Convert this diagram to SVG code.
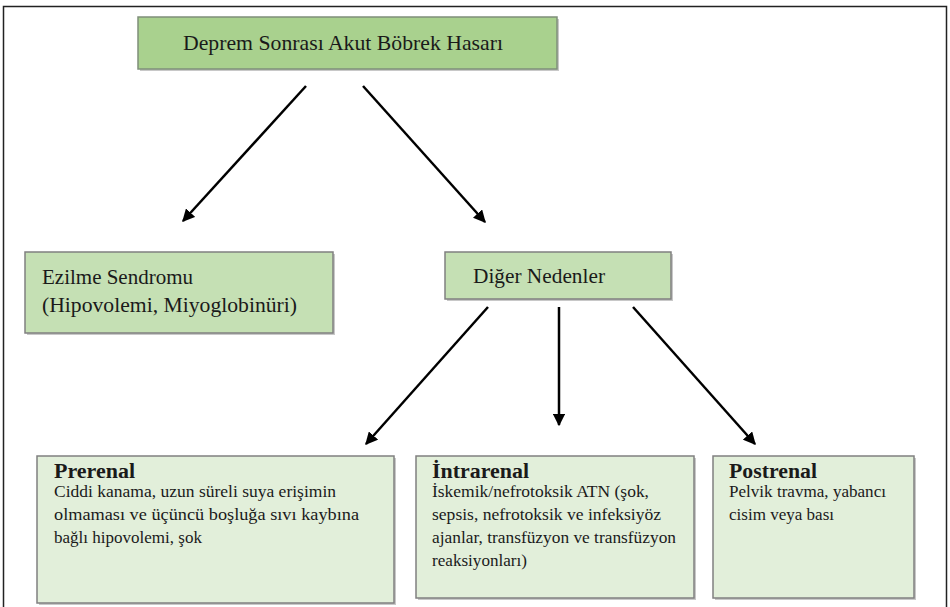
<svg xmlns="http://www.w3.org/2000/svg" width="950" height="607" viewBox="0 0 950 607">
<defs>
<style>
text{font-family:'Liberation Serif','DejaVu Serif','Noto Serif','Times New Roman',serif;fill:#1a1a1a}
.big{font-size:21px}
.head{font-size:22px}
.ttl{font-size:20px;font-weight:bold}
.body{font-size:17.5px}
.b1{fill:#a9d18e;stroke:#7f8f7a;stroke-width:1.5}
.b2{fill:#c5e0b4;stroke:#808080;stroke-width:1.5}
.b3{fill:#e2efda;stroke:#808080;stroke-width:1.5}
.sh{fill:#c8c8c8}
.c{stroke:#000;stroke-width:2.5;fill:none;marker-end:url(#ah)}
</style>
<marker id="ah" viewBox="0 0 10 10" refX="9" refY="5" markerWidth="5" markerHeight="5" orient="auto" markerUnits="strokeWidth">
<path d="M0,0 L10,5 L0,10 z" fill="#000"/>
</marker>
</defs>
<rect width="950" height="607" fill="#fff"/>
<path d="M3.5,610 V6.5 H946.5 V610" fill="none" stroke="#222" stroke-width="1.5"/>
<g id="top">
<rect class="sh" x="140" y="19" width="419" height="52"/>
<rect class="b1" x="138" y="17" width="419" height="52"/>
<text class="head" x="183" y="50" textLength="320" lengthAdjust="spacingAndGlyphs">Deprem Sonrası Akut Böbrek Hasarı</text>
</g>
<g id="ezilme">
<rect class="sh" x="27" y="254" width="308" height="81"/>
<rect class="b2" x="25" y="252" width="308" height="81"/>
<text class="big" x="42" y="284" textLength="151" lengthAdjust="spacingAndGlyphs">Ezilme Sendromu</text>
<text class="big" x="42" y="312" textLength="255" lengthAdjust="spacingAndGlyphs">(Hipovolemi, Miyoglobinüri)</text>
</g>
<g id="diger">
<rect class="sh" x="447" y="254" width="226" height="47"/>
<rect class="b2" x="445" y="252" width="226" height="47"/>
<text class="big" x="473" y="283" textLength="132" lengthAdjust="spacingAndGlyphs">Diğer Nedenler</text>
</g>
<g id="prerenal">
<rect class="sh" x="39" y="458" width="357" height="147"/>
<rect class="b3" x="37" y="456" width="357" height="147"/>
<text class="ttl" x="54" y="478" textLength="81" lengthAdjust="spacingAndGlyphs">Prerenal</text>
<text class="body" x="54" y="497" textLength="282" lengthAdjust="spacingAndGlyphs">Ciddi kanama, uzun süreli suya erişimin</text>
<text class="body" x="54" y="520" textLength="305" lengthAdjust="spacingAndGlyphs">olmaması ve üçüncü boşluğa sıvı kaybına</text>
<text class="body" x="54" y="543" textLength="148" lengthAdjust="spacingAndGlyphs">bağlı hipovolemi, şok</text>
</g>
<g id="intrarenal">
<rect class="sh" x="418" y="458" width="278" height="142"/>
<rect class="b3" x="416" y="456" width="278" height="142"/>
<text class="ttl" x="432" y="478" textLength="97" lengthAdjust="spacingAndGlyphs">İntrarenal</text>
<text class="body" x="432" y="497" textLength="217" lengthAdjust="spacingAndGlyphs">İskemik/nefrotoksik ATN (şok,</text>
<text class="body" x="432" y="520" textLength="229" lengthAdjust="spacingAndGlyphs">sepsis, nefrotoksik ve infeksiyöz</text>
<text class="body" x="432" y="543" textLength="244" lengthAdjust="spacingAndGlyphs">ajanlar, transfüzyon ve transfüzyon</text>
<text class="body" x="432" y="566" textLength="95" lengthAdjust="spacingAndGlyphs">reaksiyonları)</text>
</g>
<g id="postrenal">
<rect class="sh" x="715" y="458" width="201" height="142"/>
<rect class="b3" x="713" y="456" width="201" height="142"/>
<text class="ttl" x="729" y="478" textLength="88" lengthAdjust="spacingAndGlyphs">Postrenal</text>
<text class="body" x="729" y="497" textLength="157" lengthAdjust="spacingAndGlyphs">Pelvik travma, yabancı</text>
<text class="body" x="729" y="520" textLength="105" lengthAdjust="spacingAndGlyphs">cisim veya bası</text>
</g>
<g id="connectors">
<line class="c" x1="306" y1="86" x2="183" y2="221"/>
<line class="c" x1="363" y1="86" x2="485" y2="222"/>
<line class="c" x1="488" y1="307" x2="366" y2="444"/>
<line class="c" x1="559" y1="307" x2="559" y2="425"/>
<line class="c" x1="633" y1="307" x2="755" y2="444"/>
</g>
</svg>
